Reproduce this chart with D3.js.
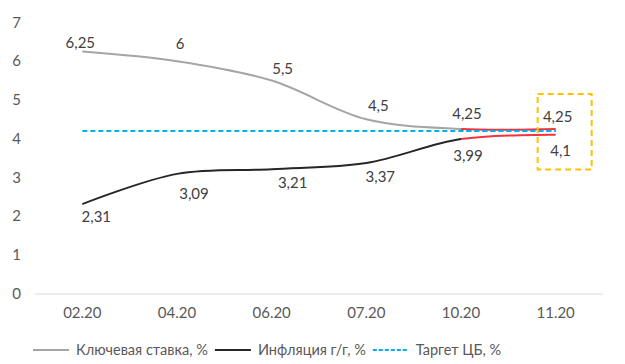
<!DOCTYPE html>
<html><head><meta charset="utf-8">
<script src="https://cdn.jsdelivr.net/npm/d3@7"></script>
<style>
body{margin:0;background:#fff;}
svg{display:block;font-family:Lato,"Open Sans",sans-serif;}
</style></head><body>
<svg id="c" width="625" height="364"></svg>
<script>
const categories = ["02.20","04.20","06.20","07.20","10.20","11.20"];
const keyRate = [6.25, 6, 5.5, 4.5, 4.25, 4.25];
const keyRateLabels = ["6,25","6","5,5","4,5","4,25","4,25"];
const inflation = [2.31, 3.09, 3.21, 3.37, 3.99, 4.1];
const inflationLabels = ["2,31","3,09","3,21","3,37","3,99","4,1"];
const target = [4.2, 4.2, 4.2, 4.2, 4.2, 4.2];
const yTicks = [0,1,2,3,4,5,6,7];
const legendNames = ["Ключевая ставка, %","Инфляция г/г, %","Таргет ЦБ, %"];

const svg = d3.select("#c");
const x = d3.scaleBand().domain(categories).range([35, 603]);
const y = d3.scaleLinear().domain([0, 7]).range([293.5, 22.5]);
const cx = d => x(d) + x.bandwidth() / 2;
const textColor = "#595959";

// y tick labels
svg.append("g").selectAll("text").data(yTicks).join("text")
  .attr("x", 21).attr("y", d => y(d)).attr("dy", "0.35em")
  .attr("text-anchor", "end").attr("font-size", 15).attr("fill", textColor)
  .text(d => d);

// x axis line
svg.append("line").attr("x1", 35).attr("x2", 603).attr("y1", 294).attr("y2", 294)
  .attr("stroke", "#d9d9d9").attr("stroke-width", 1);

// x labels
svg.append("g").selectAll("text").data(categories).join("text")
  .attr("x", d => cx(d)).attr("y", 318)
  .attr("text-anchor", "middle").attr("font-size", 15).attr("fill", textColor)
  .text(d => d);

const line = d3.line().x((d, i) => cx(categories[i])).y(d => y(d)).curve(d3.curveCatmullRom.alpha(0.5));
const straight = d3.line().x((d, i) => cx(categories[i])).y(d => y(d));

// clip paths
const defs = svg.append("defs");
defs.append("clipPath").attr("id", "pre").append("rect")
  .attr("x", 0).attr("y", 0).attr("width", cx("10.20")).attr("height", 364);
defs.append("clipPath").attr("id", "post").append("rect")
  .attr("x", cx("10.20")).attr("y", 0).attr("width", 625).attr("height", 364);

// target dashed
svg.append("path").attr("d", straight(target))
  .attr("fill", "none").attr("stroke", "#00B0F0").attr("stroke-width", 2).attr("stroke-dasharray", "5,3");

// key rate
svg.append("path").attr("d", line(keyRate)).attr("clip-path", "url(#pre)")
  .attr("fill", "none").attr("stroke", "#A5A5A5").attr("stroke-width", 2);
svg.append("path").attr("d", line(keyRate)).attr("clip-path", "url(#post)")
  .attr("fill", "none").attr("stroke", "#F5333F").attr("stroke-width", 2);

// inflation
svg.append("path").attr("d", line(inflation)).attr("clip-path", "url(#pre)")
  .attr("fill", "none").attr("stroke", "#262626").attr("stroke-width", 2);
svg.append("path").attr("d", line(inflation)).attr("clip-path", "url(#post)")
  .attr("fill", "none").attr("stroke", "#F5333F").attr("stroke-width", 2);

// target on top in forecast segment
svg.append("path").attr("d", straight(target)).attr("clip-path", "url(#post)")
  .attr("fill", "none").attr("stroke", "#00B0F0").attr("stroke-width", 2).attr("stroke-dasharray", "5,3");

// data labels
const keyOff = [[-2,-9],[3,-17],[11,-12],[12,-14],[6,-15],[2,-12]];
const infOff = [[14,13],[17,20],[21,14],[14,14],[7,17],[5,16]];
svg.append("g").selectAll("text").data(keyRate).join("text")
  .attr("x", (d, i) => cx(categories[i]) + keyOff[i][0])
  .attr("y", (d, i) => y(d) + keyOff[i][1]).attr("dy", "0.35em")
  .attr("text-anchor", "middle").attr("font-size", 15).attr("fill", "#404040")
  .text((d, i) => keyRateLabels[i]);
svg.append("g").selectAll("text").data(inflation).join("text")
  .attr("x", (d, i) => cx(categories[i]) + infOff[i][0])
  .attr("y", (d, i) => y(d) + infOff[i][1]).attr("dy", "0.35em")
  .attr("text-anchor", "middle").attr("font-size", 15).attr("fill", "#404040")
  .text((d, i) => inflationLabels[i]);

// highlight box around last point
const bx = cx("11.20");
svg.append("rect").attr("x", bx - 18).attr("y", y(5.15)).attr("width", 54).attr("height", y(3.2) - y(5.15))
  .attr("fill", "none").attr("stroke", "#FFC000").attr("stroke-width", 2).attr("stroke-dasharray", "6,4");

// legend (flow layout)
const lg = svg.append("g");
const legendStyles = [
  {color: "#A5A5A5", dash: null},
  {color: "#262626", dash: null},
  {color: "#00B0F0", dash: "4,2"}
];
let lx = 33;
legendNames.forEach((name, i) => {
  const st = legendStyles[i];
  lg.append("line").attr("x1", lx).attr("x2", lx + 36).attr("y1", 350).attr("y2", 350)
    .attr("stroke", st.color).attr("stroke-width", 2).attr("stroke-dasharray", st.dash);
  const t = lg.append("text").attr("x", lx + 43).attr("y", 350).attr("dy", "0.35em")
    .attr("font-size", 14.5).attr("fill", textColor).text(name);
  lx = lx + 43 + t.node().getComputedTextLength() + 7;
});
</script>
</body></html>
